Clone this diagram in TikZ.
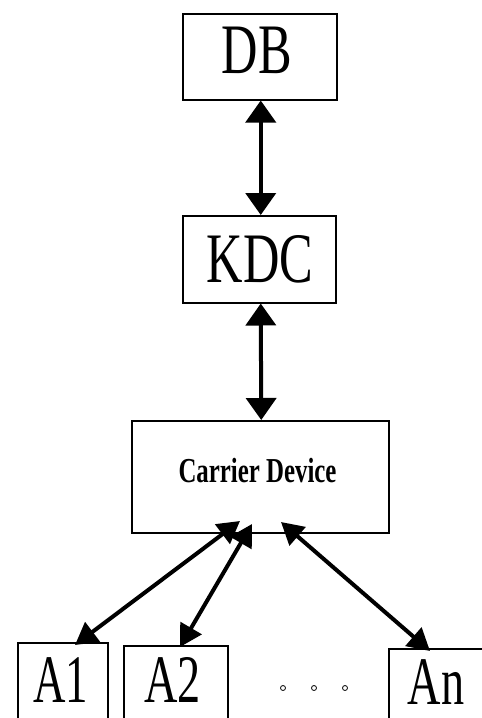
\documentclass[tikz,border=0pt]{standalone}
\usepackage{fontspec}
\setmainfont{Liberation Serif}
\usetikzlibrary{arrows.meta}
\begin{document}
\begin{tikzpicture}[x=1pt,y=-1pt,
  box/.style={draw, line width=1.5pt, inner sep=0pt, anchor=north west},
  big/.style={inner sep=0pt, anchor=base, font=\fontsize{71}{71}\selectfont},
  abig/.style={inner sep=0pt, anchor=base, font=\fontsize{68}{68}\selectfont},
  small/.style={inner sep=0pt, anchor=base, font=\fontsize{35}{35}\selectfont\bfseries},
  link/.style={line width=4pt, {Triangle[length=22pt,width=30pt]}-{Triangle[length=22pt,width=30pt]}},
  slink/.style={line width=4pt, {Triangle[length=22pt,width=24pt]}-{Triangle[length=22pt,width=24pt]}},
  dot/.style={draw, circle, line width=0.8pt, minimum size=5pt, inner sep=0pt}]
\useasboundingbox (0,0) rectangle (482,718);
\clip (0,0) rectangle (482,718);
% boxes
\node[box, minimum width=154pt, minimum height=86pt] (db) at (182,13) {};
\node[box, minimum width=153pt, minimum height=87pt] (kdc) at (182,215) {};
\node[box, minimum width=257pt, minimum height=112pt] (cd) at (131,420) {};
\node[box, minimum width=90pt, minimum height=100pt] (a1) at (17,642) {};
\node[box, minimum width=104pt, minimum height=100pt] (a2) at (123,645) {};
\node[box, minimum width=102pt, minimum height=100pt] (an) at (388,648) {};
% labels
\node[big] (dbl) at (257,73) {\scalebox{0.71}[1]{DB}};
\node[big] (kdcl) at (260,282) {\scalebox{0.71}[1]{KDC}};
\node[small] (cdl) at (257.5,482) {\scalebox{0.71}[1]{Carrier Device}};
\node[abig] (a1l) at (60.5,702) {\scalebox{0.66}[1]{A1}};
\node[abig] (a2l) at (172.5,702) {\scalebox{0.68}[1]{A2}};
\node[abig] (anl) at (436,704) {\scalebox{0.68}[1]{An}};
% dots
\node[dot] (d1) at (283,688) {};
\node[dot] (d2) at (314,688) {};
\node[dot] (d3) at (345,688) {};
% connectors
\coordinate (t1) at (240,521);
\coordinate (t2) at (252,524);
\coordinate (t3) at (281,522);
\coordinate (e1) at (75,645);
\coordinate (e2) at (180,647);
\coordinate (e3) at (430,651);
\draw[link] ([xshift=1pt]db.south) -- ([xshift=1.5pt]kdc.north);
\draw[link] ([xshift=1.5pt]kdc.south) -- ([xshift=1pt]cd.north);
\draw[slink] (t1) -- (e1);
\draw[slink] (t2) -- (e2);
\draw[slink] (t3) -- (e3);
\end{tikzpicture}
\end{document}
